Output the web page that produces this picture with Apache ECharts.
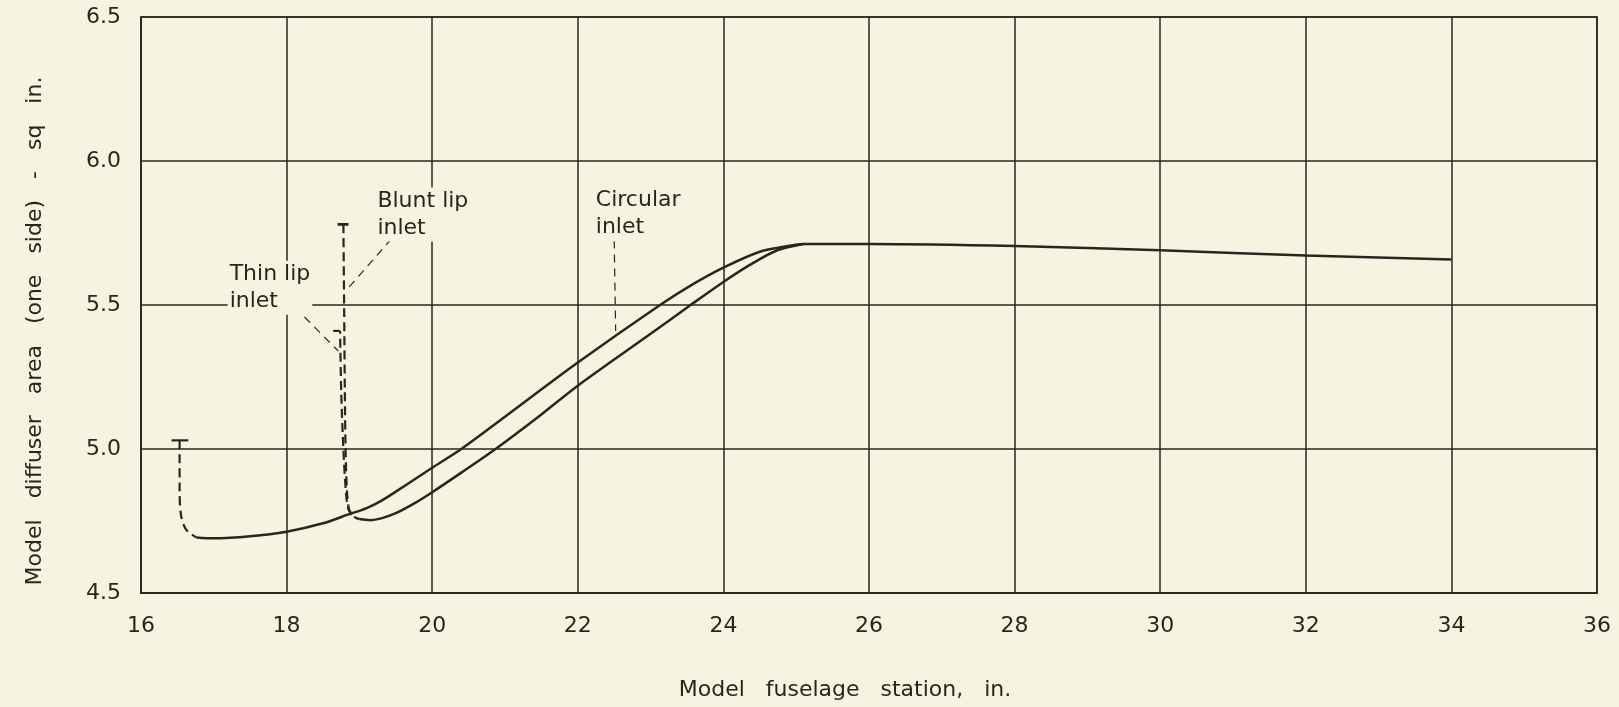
<!DOCTYPE html>
<html>
<head>
<meta charset="utf-8">
<script src="https://cdn.jsdelivr.net/npm/echarts@6/dist/echarts.min.js"></script>
<style>
html,body{margin:0;padding:0;background:#f7f3e1;}
#c{width:1619px;height:707px;}
</style>
</head>
<body>
<div id="c"></div>
<script>
// Axis ticks
const xTickValues = [16, 18, 20, 22, 24, 26, 28, 30, 32, 34, 36];
const yTickLabels = ['4.5', '5.0', '5.5', '6.0', '6.5'];

// Circular inlet (upper curve), [station, area]
const circularCap = [[16.42, 5.03], [16.65, 5.03]];
const circularDashed = [[16.53, 5.03], [16.53, 4.86], [16.55, 4.77], [16.62, 4.72], [16.76, 4.693]];
const circularSolid = [[16.76, 4.693], [17.0, 4.69], [17.5, 4.697], [18.0, 4.713], [18.5, 4.742], [18.84, 4.772], [19.1, 4.795], [19.3, 4.82], [19.5, 4.852], [19.76, 4.895], [20.0, 4.935], [20.4, 5.0], [21.0, 5.112], [22.0, 5.30], [23.13, 5.5], [23.6, 5.575], [24.0, 5.63], [24.5, 5.685], [24.83, 5.702], [25.1, 5.712], [26, 5.712], [28, 5.705], [30, 5.69], [32, 5.672], [34, 5.658]];

// Blunt lip inlet
const bluntCap = [[18.70, 5.78], [18.85, 5.78]];
const bluntDashed = [[18.78, 5.78], [18.79, 5.5], [18.80, 5.2], [18.81, 5.0], [18.83, 4.85], [18.86, 4.79], [18.93, 4.765], [19.0, 4.757]];

// Thin lip inlet
const thinCap = [[18.64, 5.41], [18.735, 5.41]];
const thinDashed = [[18.735, 5.41], [18.75, 5.2], [18.78, 5.0], [18.815, 4.85], [18.85, 4.79], [18.92, 4.765], [19.0, 4.757]];

// Lip inlets, common solid curve (lower curve)
const lipSolid = [[19.0, 4.757], [19.15, 4.753], [19.3, 4.759], [19.5, 4.777], [19.76, 4.812], [20.0, 4.85], [20.4, 4.918], [20.87, 5.0], [21.5, 5.12], [22.0, 5.22], [23.0, 5.40], [23.55, 5.5], [24.0, 5.58], [24.37, 5.64], [24.74, 5.69], [25.1, 5.712]];

// Annotations
const thinLeader = [[18.11, 5.493], [18.71, 5.34]];
const bluntLeader = [[19.44, 5.73], [18.85, 5.56]];
const circularLeader = [[22.5, 5.724], [22.52, 5.41]];
const annotations = [
  { text: 'Thin lip\ninlet', at: [17.19, 5.56] },
  { text: 'Blunt lip\ninlet', at: [19.22, 5.814] },
  { text: 'Circular\ninlet', at: [22.22, 5.815] }
];

// Axis titles (wide word spacing as lettered in the original)
const xTitle = 'Model   fuselage   station,   in.';
const yTitle = 'Model   diffuser   area   (one   side)   -   sq   in.';

const INK = '#2b2520';
const FONT = 'DejaVu Sans';

function lineSeries(data, opts) {
  return Object.assign({
    type: 'line', data: data, symbol: 'none', silent: true,
    lineStyle: { color: INK, width: 2.5 }, z: 5
  }, opts || {});
}
const dashStyle = { color: INK, width: 2.2, type: [9, 5] };
const leaderStyle = { color: INK, width: 1.2, type: [8, 6] };

const chart = echarts.init(document.getElementById('c'));
chart.setOption({
  backgroundColor: '#f7f3e1',
  animation: false,
  grid: { left: 141, right: 22, top: 17, bottom: 114, show: true, borderColor: INK, borderWidth: 1.6, backgroundColor: 'transparent' },
  xAxis: {
    type: 'value', min: 16, max: 36, interval: 2,
    axisLine: { show: true, lineStyle: { color: INK, width: 1.6 } },
    axisTick: { show: false },
    splitLine: { show: true, lineStyle: { color: INK, width: 1.5 } },
    axisLabel: { color: INK, fontFamily: FONT, fontSize: 22, margin: 22,
      formatter: function (v) { return xTickValues.indexOf(v) >= 0 ? String(v) : ''; } }
  },
  yAxis: {
    type: 'value', min: 4.5, max: 6.5, interval: 0.5,
    axisLine: { show: true, lineStyle: { color: INK, width: 1.6 } },
    axisTick: { show: false },
    splitLine: { show: true, lineStyle: { color: INK, width: 1.5 } },
    axisLabel: { color: INK, fontFamily: FONT, fontSize: 22, margin: 20,
      formatter: function (v) { return yTickLabels[Math.round((v - 4.5) / 0.5)]; } }
  },
  graphic: [
    { type: 'text', x: 845, y: 690, style: { text: xTitle, fill: INK, font: '22px "DejaVu Sans"', textAlign: 'center', textVerticalAlign: 'middle' } },
    { type: 'text', x: 35, y: 331, rotation: Math.PI / 2, style: { text: yTitle, fill: INK, font: '22px "DejaVu Sans"', textAlign: 'center', textVerticalAlign: 'middle' } }
  ],
  series: [
    lineSeries(circularCap, { lineStyle: { color: INK, width: 2.2 } }),
    lineSeries(circularDashed, { smooth: 0.3, lineStyle: dashStyle }),
    lineSeries(circularSolid, { smooth: 0.3 }),
    lineSeries(bluntCap, { lineStyle: { color: INK, width: 2.6 } }),
    lineSeries(bluntDashed, { smooth: 0.3, lineStyle: dashStyle }),
    lineSeries(thinCap, { lineStyle: { color: INK, width: 2.2 } }),
    lineSeries(thinDashed, { smooth: 0.3, lineStyle: Object.assign({}, dashStyle, { dashOffset: 6 }) }),
    lineSeries(lipSolid, { smooth: 0.3 }),
    lineSeries(thinLeader, { lineStyle: leaderStyle }),
    lineSeries(bluntLeader, { lineStyle: leaderStyle }),
    lineSeries(circularLeader, { lineStyle: leaderStyle }),
    {
      type: 'scatter', silent: true, symbolSize: 0, z: 6,
      itemStyle: { opacity: 1 },
      data: annotations.map(function (a) { return { value: a.at, name: a.text }; }),
      label: { show: true, position: 'right', distance: 0, opacity: 1, formatter: function (p) { return p.name; },
        color: INK, fontFamily: FONT, fontSize: 22, lineHeight: 27, align: 'left', verticalAlign: 'middle',
        backgroundColor: '#f7f3e1', padding: [0, 2] }
    }
  ]
});
</script>
</body>
</html>
